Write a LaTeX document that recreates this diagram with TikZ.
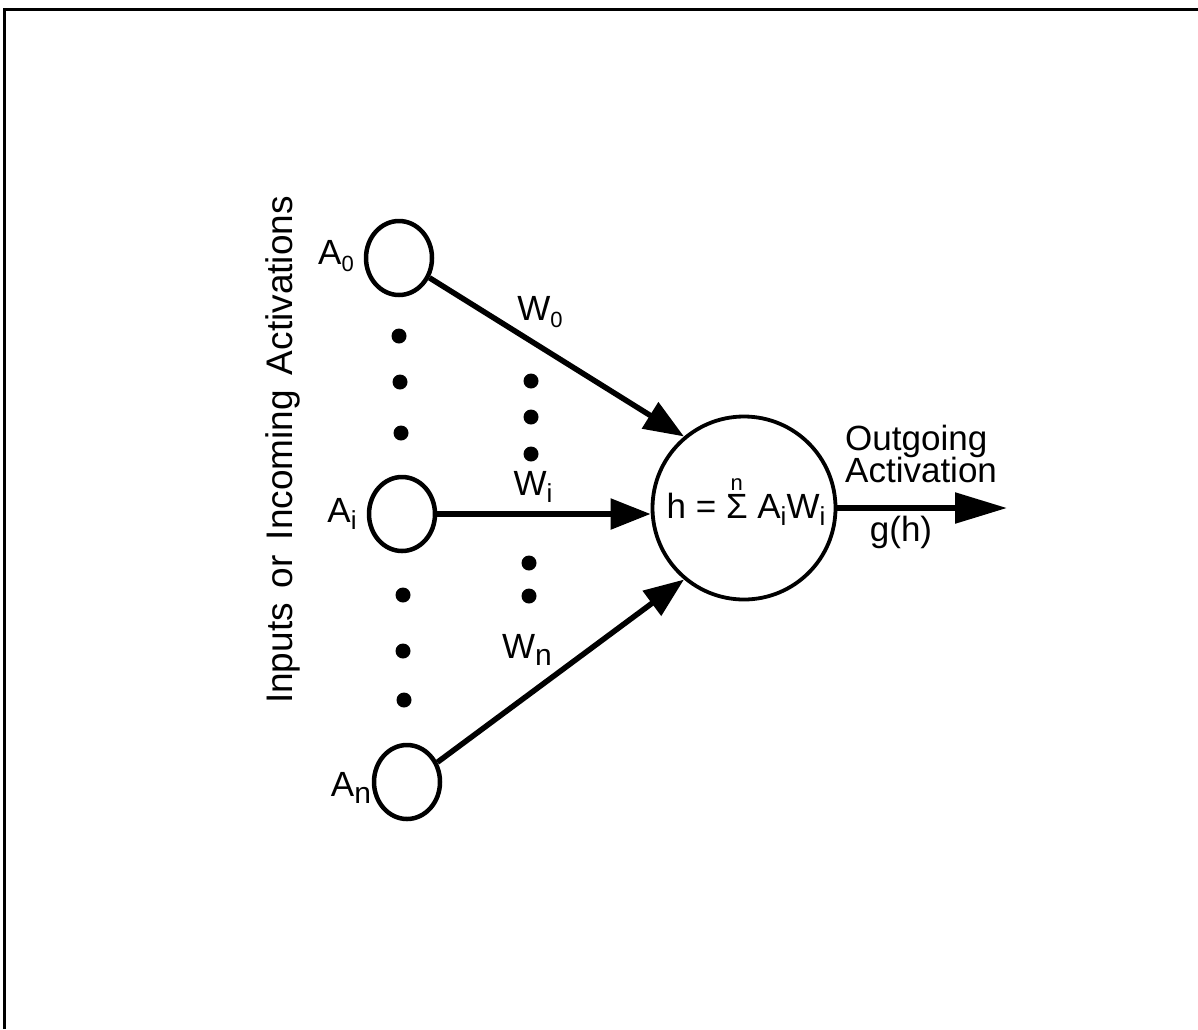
\documentclass[tikz,border=0pt]{standalone}
\usepackage{fontspec}
\setmainfont{Liberation Sans}
\usetikzlibrary{arrows.meta,shapes.geometric}
\newcommand\lsub[2][26]{\raisebox{-0.22em}{\fontsize{#1}{#1}\selectfont #2}}
\newcommand\sumover{\ooalign{Σ\cr\hidewidth\raisebox{0.8em}{\fontsize{22}{22}\selectfont n}\hidewidth\cr}}
\begin{document}
\begin{tikzpicture}[x=1pt,y=-1pt,
  inp/.style={draw, ellipse, line width=4.5pt, minimum width=66pt, minimum height=74pt, inner sep=0pt},
  bigc/.style={draw, circle, line width=3.8pt, minimum size=183pt, inner sep=0pt},
  dot/.style={circle, fill, minimum size=15pt, inner sep=0pt},
  lab/.style={inner sep=0pt, font=\fontsize{35}{40}\selectfont},
  conn/.style={line width=5.5pt, -{Triangle[length=40pt,width=30pt]}},
  outc/.style={line width=5.5pt, -{Triangle[length=52pt,width=30pt]}},
  frame/.style={line width=3pt}
]
\useasboundingbox (0,0) rectangle (1198,1029);
% frame
\coordinate (fbl) at (4,1029);
\coordinate (ftl) at (4,9);
\coordinate (ftr) at (1198,9);
\draw[frame] (fbl) -- (ftl) -- (ftr);

% input units
\node[inp] (a0) at (399,258) {};
\node[inp] (ai) at (402,514) {};
\node[inp] (an) at (407,782) {};
% summing unit
\node[bigc] (h) at (744,508) {};
\node[lab, anchor=base] (eq) at (746,518) {h = \sumover\ A\lsub{i}W\lsub{i}};

% dots
\foreach \n/\x/\y in {l1/399/336, l2/400/382, l3/401/433, l4/403/595, l5/403/651, l6/404/700,
                      m1/531/381, m2/531/417, m3/531/454, m4/529/563, m5/529/596}
  \node[dot] (\n) at (\x,\y) {};

% labels
\node[lab] (la0) at (336,256) {A\lsub[22]{0}};
\node[lab] (lai) at (342,514) {A\lsub{i}};
\node[lab] (lan) at (351,788) {A\lsub[30]{n}};
\node[lab] (lw0) at (540,312) {W\lsub[22]{0}};
\node[lab] (lwi) at (533,487) {W\lsub{i}};
\node[lab] (lwn) at (527,650) {W\lsub[30]{n}};
\node[lab, anchor=base west] (og1) at (845,450) {Outgoing};
\node[lab, anchor=base west] (og2) at (845,482) {Activation};
\node[lab, anchor=base] (gh) at (901,541) {g(h)};
\node[lab, rotate=90, anchor=base, font=\fontsize{37}{40}\selectfont] (inlab) at (292,450)
  {Inputs\hspace{15pt}or\hspace{15pt}Incoming\hspace{15pt}Activations};

% connectors
\draw[conn] (a0.-33) -- (h.130);
\draw[conn] (ai.east) -- (ai.east -| h.west);
\draw[conn] (an.33) -- (h.230);
\coordinate (out) at (1007,508);
\draw[outc] (h.east) -- (out);
\end{tikzpicture}
\end{document}
